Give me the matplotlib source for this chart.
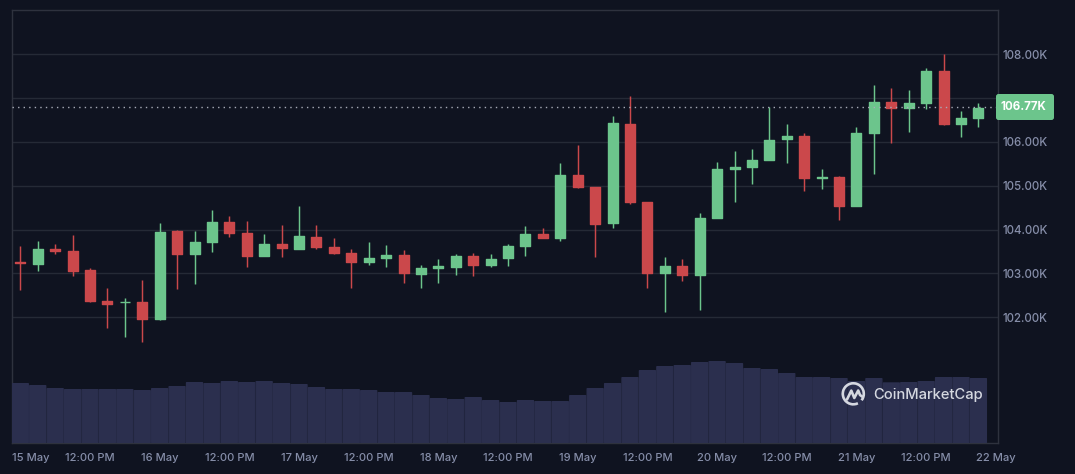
import numpy as np
import matplotlib
matplotlib.use("Agg")
import matplotlib.pyplot as plt
from matplotlib.patches import Arc, FancyBboxPatch, PathPatch
from matplotlib.path import Path
from matplotlib.transforms import ScaledTranslation

# Candle values (price in thousands of USD)
opens = [103.28,103.21,103.58,103.53,103.08,102.39,102.33,102.37,101.94,103.98,103.44,103.71,104.19,103.94,103.39,103.69,103.55,103.85,103.62,
         103.48,103.26,103.35,103.44,102.98,103.12,103.14,103.42,103.17,103.33,103.62,103.92,103.80,105.26,104.98,104.14,106.42,104.64,103.01,103.19,
         102.96,104.26,105.37,105.42,105.58,106.05,106.14,105.17,105.21,104.53,106.19,106.92,106.76,106.87,107.62,106.39,106.53]
closes = [103.23,103.58,103.51,103.05,102.37,102.30,102.37,101.94,103.96,103.44,103.73,104.19,103.92,103.39,103.69,103.58,103.87,103.60,103.46,
          103.26,103.37,103.44,103.01,103.14,103.17,103.42,103.17,103.35,103.64,103.92,103.80,105.26,104.96,104.12,106.44,104.62,103.01,103.19,102.96,
          104.28,105.39,105.44,105.60,106.05,106.14,105.17,105.21,104.53,106.21,106.92,106.76,106.89,107.62,106.39,106.55,106.78]
highs = [103.62,103.73,103.67,103.87,103.12,102.67,102.44,102.85,104.14,103.98,103.96,104.44,104.30,104.19,103.89,104.10,104.53,104.10,103.80,
         103.55,103.71,103.64,103.53,103.19,103.33,103.44,103.46,103.44,103.67,104.08,104.03,105.53,105.94,104.98,106.60,107.05,104.64,103.37,103.33,
         104.37,105.55,105.80,105.83,106.80,106.42,106.21,105.39,105.23,106.35,107.30,107.23,107.19,107.69,108.01,106.71,106.89]
lows = [102.62,103.05,103.44,102.94,102.35,101.76,101.55,101.44,101.94,102.64,102.76,103.48,103.83,103.14,103.39,103.37,103.55,103.55,103.44,
        102.67,103.19,103.14,102.78,102.67,102.78,102.96,102.94,103.14,103.17,103.39,103.80,103.73,104.96,103.37,104.03,104.58,102.67,102.12,102.83,
        102.17,104.26,104.64,105.05,105.58,105.53,104.89,104.92,104.21,104.53,105.26,105.98,106.23,106.76,106.39,106.12,106.35]
volumes = [59.3,57.3,54.3,53.3,53.3,53.3,53.3,52.3,54.3,56.3,60.3,59.3,61.3,60.3,61.3,59.3,58.3,55.3,53.3,53.3,52.3,50.3,50.3,47.3,44.3,43.3,45.3,42.3,
           40.3,42.3,41.3,41.3,47.3,54.3,59.3,65.3,72.3,76.3,77.3,80.3,81.3,79.3,74.3,73.3,69.3,65.3,65.3,64.3,61.3,64.3,60.0,60.3,61.3,65.3,65.3,64.3]
price_ticks = [102,103,104,105,106,107,108]
price_labels = ["102.00K","103.00K","104.00K","105.00K","106.00K","","108.00K"]
date_labels = ["15 May","12:00 PM","16 May","12:00 PM","17 May","12:00 PM","18 May","12:00 PM",
               "19 May","12:00 PM","20 May","12:00 PM","21 May","12:00 PM","22 May"]
last_price = 106.79
last_label = "106.77K"

BG = "#0f1320"; GRID = "#252a36"; AXIS = "#2e323e"; TXT = "#868ea9"
UP = "#6cc58c"; DOWN = "#cb484b"; VOL = "#2b2f4e"; LOGO = "#d5d8e0"
W, H = 1075, 474
plt.rcParams["font.family"] = ["Inter", "DejaVu Sans"]

fig = plt.figure(figsize=(W/100, H/100), dpi=100, facecolor=BG)
def box(l, t, r, b):
    return [l/W, 1-b/H, (r-l)/W, (b-t)/H]

L, R, T, B = 11.5, 997.5, 9.5, 442.5
ax = fig.add_axes(box(L, T, R, B), facecolor=BG)
n = len(opens)
step = 17.42
x = np.arange(n)
xl = (L-20.3)/step
xr = (R-20.3)/step
ax.set_ylim(108-(B-54.3)/43.83, 108+(54.3-T)/43.83)

ax.set_yticks(price_ticks)
ax.set_yticklabels(price_labels)
ax.yaxis.tick_right()
ax.grid(axis="y", color=GRID, lw=1, zorder=0)
ax.tick_params(axis="y", length=0, pad=3.4, labelsize=8.3, labelcolor=TXT)
ax.set_xticks(np.arange(len(date_labels))*4)
ax.set_xticklabels(date_labels)
ax.tick_params(axis="x", length=0, pad=7.5, labelsize=8.0, labelcolor=TXT)
ax.set_xlim(xl, xr)
for t in ax.get_xticklabels() + ax.get_yticklabels():
    t.set_fontweight("medium")
first = ax.get_xticklabels()[0]
first.set_transform(first.get_transform() + ScaledTranslation(10.5/100, 0, fig.dpi_scale_trans))
for s in ("left", "right", "bottom", "top"):
    ax.spines[s].set_color(AXIS); ax.spines[s].set_linewidth(1)
ax.set_axisbelow(True)

vol_ax = fig.add_axes(box(L, T, R, B), facecolor="none")
vol_ax.set_xlim(xl, xr)
vol_ax.set_ylim(0, B-T)
vol_bars = vol_ax.bar(x, np.array(volumes)-0.5, width=15.9/step, color=VOL, edgecolor=VOL, linewidth=1, joinstyle="round", zorder=2)
for b in vol_bars:
    b.set_snap(False)
vol_ax.axis("off")
vol_ax.set_zorder(1)

pr_ax = fig.add_axes(box(L, T, R, B), facecolor="none")
pr_ax.set_xlim(xl, xr)
pr_ax.set_ylim(ax.get_ylim())
pr_ax.axis("off")
pr_ax.set_zorder(2)
colors = [UP if c >= o else DOWN for o, c in zip(opens, closes)]
pr_ax.vlines(x, lows, highs, colors=colors, lw=1.05, zorder=3)
pr_ax.bar(x, np.abs(np.array(closes)-np.array(opens))-1/43.83, bottom=np.minimum(opens, closes)+0.5/43.83,
          width=10/step, color=colors, edgecolor=colors, linewidth=1, joinstyle="round", zorder=4)
pr_ax.axhline(last_price, color="#a8acb8", lw=1, dashes=(1, 3), zorder=5)

fig.add_artist(FancyBboxPatch((996, H-120), 58, 26, boxstyle="round,pad=0,rounding_size=2.5",
               transform=None, facecolor=UP, edgecolor="none", zorder=10))
fig.text(1023.5/W, 1-107/H, last_label, color="white", fontsize=8.3, fontweight="bold",
         ha="center", va="center", zorder=11)

# watermark logo and name
fig.add_artist(Arc((853.3, H-393.8), 21, 21, theta1=-38, theta2=296, transform=None, color=LOGO, lw=1.9, zorder=10))
m_pts = [(847.0, 399.5), (851.3, 390.6), (854.3, 398.0), (858.2, 390.5), (860.0, 395.0), (862.5, 396.8)]
fig.add_artist(PathPatch(Path([(a, H-b) for a, b in m_pts]), transform=None, fill=False, edgecolor=LOGO, lw=1.9,
                         joinstyle="round", capstyle="round", zorder=10))
fig.text(873.5/W, 1-394.5/H, "CoinMarketCap", color=LOGO, fontsize=10.6, fontweight="medium", va="center", ha="left", zorder=10)
fig.savefig("out.png", dpi=100, facecolor=BG)
